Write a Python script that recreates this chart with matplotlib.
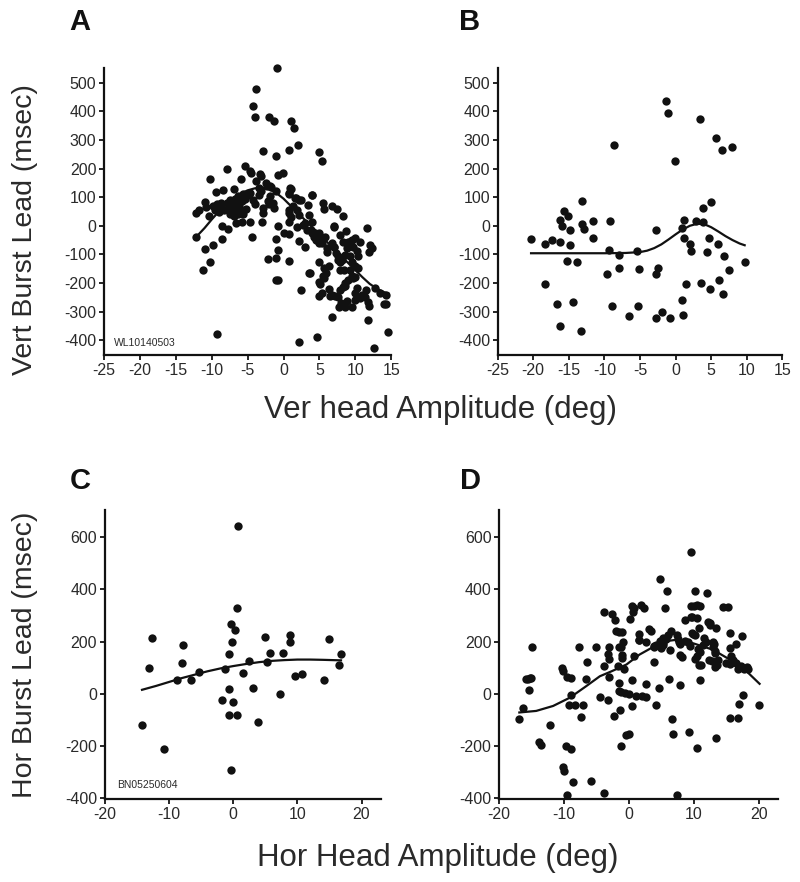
import matplotlib
matplotlib.use("Agg")
import matplotlib.pyplot as plt

plt.rcParams['font.family'] = ['Liberation Sans', 'DejaVu Sans']
plt.rcParams['axes.unicode_minus'] = False

# ---- panel A: vertical, monkey WL ----
a_x = [-0.9, -3.8, -4.2, -3.9, -2.0, -1.3, 1.1, 1.4, -2.8, -1.0, 0.8, 2.0, 4.9, 5.4, -7.9, -5.4,
       -10.3, -5.9, -4.7, -4.5, -3.3, -0.7, -0.1, -8.4, -9.4, -6.9, -1.9, 1.1, 0.8, 3.9, 1.8, 2.5,
       -12.2, -11.7, -11.0, -10.8, -10.4, -9.8, -9.5, -9.2, -9.0, -8.8, -8.7, -8.3, -8.6, -7.7, -8.6,
       -12.2, -11.0, -9.8, -10.3, -11.2, -9.3,
       -7.9, -7.5, -7.2, -7.0, -6.8, -6.6, -6.4, -6.2, -6.0, -5.8, -5.6, -5.4, -5.2, -7.4, -6.9, -6.3,
       -5.7, -7.6, -6.6, -5.8, -4.7, -4.4, -5.0, -4.7, -4.3, -4.0, -3.4, -3.2, -3.4, -3.8, -3.1, -2.8,
       -2.8, -3.0, -2.5, -2.3, -1.7, -2.1, -2.0, -1.5, -1.1, -1.3, -1.9, -0.7, -1.0, -0.8, -1.1, -2.1,
       -1.0, -0.7,
       0.0, 0.7, 0.8, 0.9, 0.8, 0.7, 0.8, 1.0, 0.7, 1.3, 1.6, 2.1, 1.9, 2.2, 1.9, 2.1, 2.5, 2.1, 3.0,
       2.7, 3.3, 3.5, 3.9, 3.9, 3.4, 4.0, 4.3, 4.5, 4.8, 3.7, 4.6, 5.0, 5.0, 5.0, 5.1, 4.9, 4.6, 5.5,
       5.6, 5.8, 6.0, 5.7, 5.6, 6.3, 6.5, 7.2, 6.8, 6.7, 7.5, 7.0, 7.0, 7.3, 7.6, 7.9, 8.5, 8.3, 7.8,
       7.9, 8.4, 8.7, 9.0, 9.4, 9.7, 10.2, 9.6, 9.9, 9.2, 9.6, 9.9, 8.9, 8.5, 8.0, 7.7, 9.6, 9.9, 9.7,
       10.0,
       11.6, 12.0, 12.3, 11.9, 10.6, 10.4, 10.4, 12.7, 13.5, 14.3, 14.3, 14.0, 11.7, 11.9, 11.7, 14.5,
       12.6, 11.0, 10.6, 11.3, 11.5, 10.2, 10.0,
       3.0, 3.8, 4.4, 4.8, 5.3, 6.0, 6.8, 7.1, 7.6, 8.1, 8.5, 8.9, 8.3, 7.8, 7.1, 9.2, 9.5, 9.0, 8.5,
       8.3, 6.4, 5.9, 5.5, 5.0, 5.3, 6.7, 7.6, 3.6]
a_y = [553, 477, 420, 381, 382, 366, 368, 343, 263, 244, 264, 283, 258, 227, 200, 210,
       165, 165, 190, 183, 180, 177, 186, 126, 117, 128, 140, 129, 112, 107, 98, 90,
       44, 56, 83, 65, 35, 70, 55, 75, 48, 62, 79, 56, 1, -10, -47,
       -40, -80, -67, -126, -155, -380,
       80, 91, 72, 60, 95, 80, 104, 68, 50, 85, 110, 95, 60, 40, 33, 42,
       40, 55, 9, 15, 13, -40, 108, 114, 89, 76, 108, 120, 132, 155, 175, 44,
       62, 13, 150, 140, 135, 85, 75, 80, 120, 64, 103, 1, -46, -84, -114, -116,
       -190, -190,
       -26, -29, -123, 132, 114, 54, 44, 32, 14, 68, 97, 91, 54, 38, -3, -53, -225, -408, -73,
       3, -14, 38, 15, 108, 73, -26, -38, -49, -42, -166, -30, -26, -61, -125, -205, -246, -388, 79,
       58, -38, -90, -149, -181, -222, -245, -245, -318, 70, 58, 0, -73, -95, -120, -225, -211, 35, -125,
       -155, -155, -19, -58, -52, -73, -87, -49, -43, -107, -125, -140, -262, -283, -271, -283, -283, -260, -184,
       -180,
       -6, -67, -79, -91, -55, -107, -148, -219, -236, -241, -274, -272, -265, -280, -330, -373,
       -429, -241, -253, -250, -224, -218, -236,
       9, -14, -26, -37, -61, -79, -61, -73, -107, -119, -101, -79, -55, -32, -3, -154, -177, -189, -201,
       -213, -142, -165, -177, -195, -236, -242, -248, -165]
a_fit_x = [-12.2, -11, -10, -9, -8, -7, -6, -5, -4, -3, -2, -1, 0, 1, 2, 3, 4, 5, 6, 7, 8, 9, 10, 11,
           12, 13, 14, 14.6]
a_fit_y = [-40, -8, 22, 50, 75, 95, 112, 124, 131, 133, 128, 115, 95, 70, 45, 20, -5, -30, -55, -80,
           -105, -130, -155, -180, -203, -220, -232, -237]

# ---- panel B: vertical, second monkey ----
b_x = [-20.3, -18.4, -17.4, -18.3, -16.6, -16.2, -16.2, -16.2, -16.0, -15.7, -15.1, -14.8, -14.8,
       -15.3, -14.4, -13.8, -13.2, -13.1, -12.9, -13.3, -11.6, -11.6, -9.2, -8.7, -9.4, -9.7, -9.0,
       -8.0, -7.9, -6.6, -5.4, -5.3, -5.1, -2.7, -2.5, -2.8, -2.7, -1.9, -0.8, -1.3, -1.1, -0.1, 0.9,
       1.2, 1.2, 2.0, 2.2, 1.5, 0.9, 1.1, 2.8, 3.4, 3.5, 3.9, 3.9, 5.0, 4.4, 4.7, 4.9, 5.7, 6.5, 6.0,
       6.8, 6.1, 6.6, 7.5, 7.9, 9.7]
b_y = [-47, -62, -50, -204, -273, -352, -55, 20, 0, 51, 35, -13, -68,
       -124, -265, -126, 88, 8, -12, -369, 18, -42, 18, 283, -85, -167, -279,
       -102, -148, -317, -89, -282, -152, -15, -147, -169, -321, -300, -322, 435, 393, 225, -9,
       20, -42, -64, -88, -204, -258, -311, 18, 374, -201, 14, 61, 84, -92, -42, -222, 307, 266, -64,
       -106, -190, -237, -154, 275, -128]
b_fit_x = [-20.3, -15, -10, -7, -5, -4, -3, -2, -1, 0, 1, 2, 3, 4, 5, 6, 7, 8, 9, 9.7]
b_fit_y = [-96, -96, -96, -95, -92, -87, -78, -65, -48, -30, -13, 0, 7, 6, -5, -20, -36, -50, -62, -68]

# ---- panel C: horizontal, monkey BN ----
c_x = [0.7, 0.6, -0.3, 0.3, -0.2, -0.7, -1.3, -0.7, -1.8, 0.05, -0.7, 0.6, -0.4, -14.2, -10.7,
       -13.1, -12.6, -7.8, -8.0, -8.8, -6.5, -5.4, 1.6, 2.4, 3.1, 3.8, 4.9, 5.3, 5.8, 7.8, 7.3, 8.8,
       8.8, 9.7, 10.8, 14.2, 14.9, 16.5, 16.8]
c_y = [642, 328, 268, 245, 199, 152, 96, 18, -24, -32, -82, -82, -291, -121, -211,
       98, 213, 188, 119, 52, 54, 82, 80, 124, 22, -109, 217, 120, 155, 158, -1, 225,
       200, 68, 74, 54, 209, 109, 153]
c_fit_x = [-14.2, -12, -10, -8, -6, -4, -2, 0, 2, 4, 6, 8, 10, 12, 14, 16.8]
c_fit_y = [15, 30, 45, 60, 73, 86, 97, 106, 114, 121, 126, 129, 131, 131, 130, 128]

# ---- panel D: horizontal, second monkey ----
d_x = [-16.9, -16.4, -15.4, -15.9, -15.5, -15.3, -15.1, -15.0, -13.9, -13.5, -12.1, -10.3, -10.2,
       -9.6, -9.0, -9.0, -9.2, -8.4, -9.7, -9.0, -10.2, -10.0, -9.6, -8.6, -7.7, -7.1, -7.4, -6.7,
       -6.5, -5.9, -5.1, -4.5, -3.9, -3.9, -3.8, -3.3, -3.1, -3.3, -3.1, -3.1, -2.7, -2.2, -2.3, -2.0,
       -1.5, -1.1, -1.7, -1.6, -1.5, -1.4, -1.2, -1.1, -1.1, -1.0, -1.6, -1.2, -0.6, -1.3, -0.8, -0.4,
       -0.05, -0.05, 0.1, 0.4, 0.5, 0.4, 0.6, 0.7, 0.7, 1.1, 1.5, 2.0, 2.6, 1.5, 1.6, 1.9, 2.3, 2.6,
       3.0, 3.4, 2.6, 3.8, 3.9, 4.2, 3.9, 4.2, 4.6, 4.7, 4.7, 4.9, 5.2, 5.3, 5.2, 5.6, 5.9, 5.7, 6.0,
       6.4, 6.1, 6.3, 6.6, 6.8, 7.4, 7.6, 7.7, 7.9, 8.2, 7.9, 7.4, 7.9, 8.6, 8.6, 9.1, 9.4, 9.2, 9.5,
       9.6, 9.7, 9.5, 9.7, 9.9, 10.2, 10.1, 10.4, 10.2, 10.0, 10.4, 10.5, 10.7, 10.5, 10.6, 10.9,
       10.9, 11.0, 10.8, 11.1, 11.4, 11.6, 11.8, 12.0, 12.2, 12.4, 12.5, 12.3, 12.8, 12.9, 13.0,
       13.2, 13.1, 13.4, 13.3, 13.5, 13.3, 13.4, 13.7, 14.5, 15.3, 15.0, 15.5, 15.5, 15.6, 15.7,
       16.0, 15.6, 16.8, 16.5, 16.5, 16.8, 16.9, 17.4, 17.3, 17.7, 17.6, 18.1, 18.3, 20.0]
d_y = [-98, -56, 14, 55, 58, 60, 61, 178, -184, -197, -121, 99, 86,
       63, 61, -5, -43, -43, -202, -212, -282, -295, -387, -338, 178, -43, -89, 55,
       121, -335, 180, -13, -380, 312, 105, 154, 135, -25, 63, 179, 305, 283, -85, 241,
       238, 236, 105, 42, 178, -62, 178, 150, 137, 200, 10, 5, 1, -200, 93, -159,
       -155, -3, 287, 51, -46, 338, 315, 328, 143, -8, 229, -10, -12, 207, 207, 340, 328, 38,
       249, 241, 200, 178, 121, 188, 183, -43, 23, 439, 204, 175, 213, 196, 185, 328, 394, 211, 225,
       239, 57, 166, -98, -155, 224, 211, 197, 190, 140, 147, -390, 33, 204, 281, 197, 184, -146, 543,
       337, 296, 293, 232, 229, 226, 135, 143, 394, 338, 340, 290, 251, -208, 171, 159,
       337, 51, 109, 112, 188, 213, 200, 385, 277, 270, 264, 131, 127, 200, 180,
       156, 190, 251, 102, 112, 163, -171, 131, 334, 334, 118, 114, 175, 232, 143,
       131, -95, -95, 190, 118, 95, -41, 223, 105, 95, -5, 102, 93, -44]
d_fit_x = [-16.9, -14.3, -11.7, -9.1, -6.6, -4.5, -2.7, -0.4, 1.6, 3.4, 5.2, 7.3, 9.8, 12.9, 16.0,
           18.1, 20.1]
d_fit_y = [-72, -66, -47, -15, 29, 67, 86, 112, 150, 175, 200, 207, 194, 169, 124, 86, 38]

DOT = '#111111'
TXT = '#2a2a2a'


def style(ax, xlim, ylim, xticks, yticks):
    ax.set_xlim(*xlim)
    ax.set_ylim(*ylim)
    ax.set_xticks(xticks)
    ax.set_yticks(yticks)
    for s in ['top', 'right']:
        ax.spines[s].set_visible(False)
    for s in ['left', 'bottom']:
        ax.spines[s].set_linewidth(1.6)
        ax.spines[s].set_color('#111111')
    ax.tick_params(direction='out', length=3.5, width=1.2, labelsize=11.5,
                   labelcolor=TXT, pad=2)


def panel(rect, xs, ys, fx, fy):
    ax = fig.add_axes(rect)
    ax.scatter(xs, ys, s=36, color=DOT, linewidths=0, zorder=3, clip_on=False)
    ax.plot(fx, fy, color='#111111', lw=1.6, zorder=4)
    return ax


fig = plt.figure(figsize=(8, 8.82), dpi=100)

ax_a = panel([0.130, 0.5975, 0.359, 0.3254], a_x, a_y, a_fit_x, a_fit_y)
style(ax_a, (-25, 15), (-452, 552), range(-25, 16, 5), range(-400, 501, 100))
ax_a.text(0.035, 0.03, 'WL10140503', transform=ax_a.transAxes, fontsize=7.5, color=TXT)

ax_b = panel([0.622, 0.5975, 0.356, 0.3254], b_x, b_y, b_fit_x, b_fit_y)
style(ax_b, (-25, 15), (-452, 552), range(-25, 16, 5), range(-400, 501, 100))

ax_c = panel([0.131, 0.0938, 0.345, 0.328], c_x, c_y, c_fit_x, c_fit_y)
style(ax_c, (-20, 23), (-405, 705), range(-20, 21, 10), range(-400, 601, 200))
ax_c.text(0.045, 0.04, 'BN05250604', transform=ax_c.transAxes, fontsize=7.5, color=TXT)

ax_d = panel([0.624, 0.0938, 0.349, 0.328], d_x, d_y, d_fit_x, d_fit_y)
style(ax_d, (-20, 23), (-405, 705), range(-20, 21, 10), range(-400, 601, 200))

# panel letters and shared axis titles
for lbl, x, y in [('A', 80, 22), ('B', 470, 22), ('C', 80, 481), ('D', 470, 481)]:
    fig.text(x / 800, 1 - y / 882, lbl, fontsize=21, fontweight='bold',
             ha='center', va='center', color='#111111')

fig.text(25 / 800, 1 - 230 / 882, 'Vert Burst Lead (msec)', rotation=90, fontsize=20.5,
         ha='center', va='center', color=TXT)
fig.text(25 / 800, 1 - 655 / 882, 'Hor Burst Lead (msec)', rotation=90, fontsize=20.5,
         ha='center', va='center', color=TXT)
fig.text(440 / 800, 1 - 410 / 882, 'Ver head Amplitude (deg)', fontsize=22.5,
         ha='center', va='center', color=TXT)
fig.text(438 / 800, 1 - 858 / 882, 'Hor Head Amplitude (deg)', fontsize=22.5,
         ha='center', va='center', color=TXT)

fig.savefig('out.png', dpi=100)
